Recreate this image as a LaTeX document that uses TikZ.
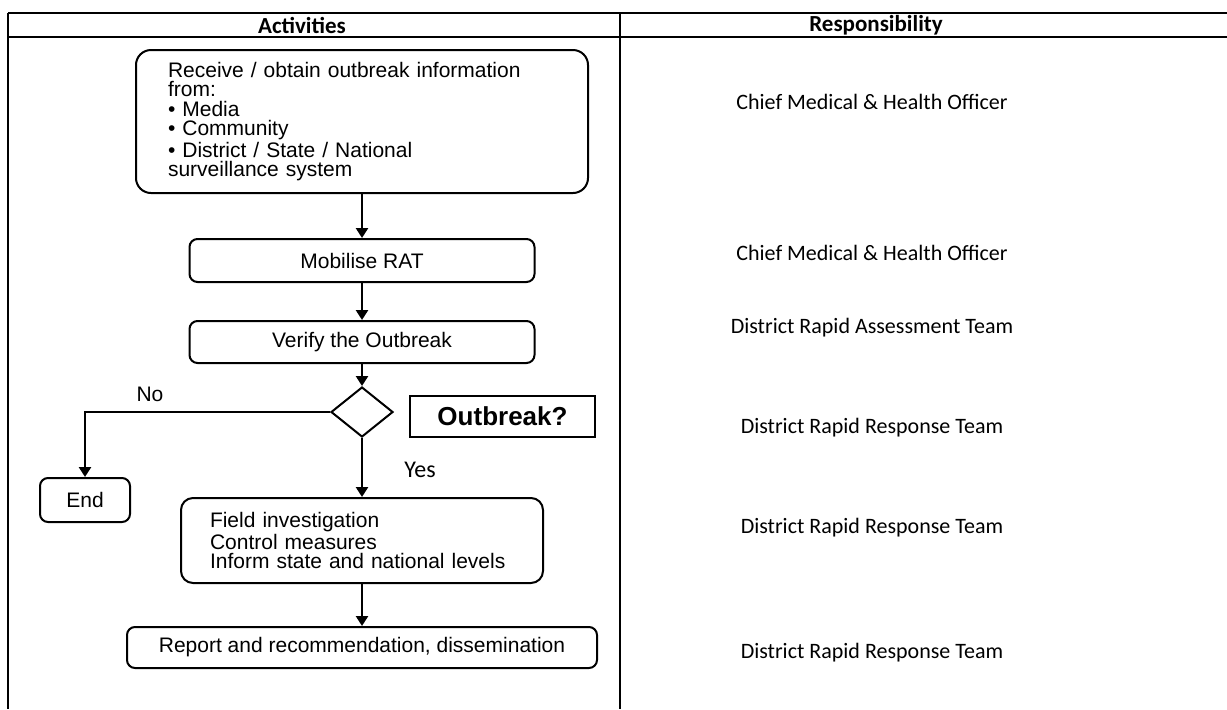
\documentclass[tikz,border=0pt]{standalone}
\usepackage{fontspec}
\setmainfont{Liberation Sans}
\newfontfamily\calfont{Carlito}
\usetikzlibrary{arrows.meta,shapes.geometric}

\begin{document}
\begin{tikzpicture}[x=0.5pt,y=-0.5pt,
	box/.style={draw,line width=1pt,rounded corners=4pt,inner sep=0pt,font=\fontsize{10.5}{9.7}\selectfont},
	arr/.style={line width=1.4pt,-{Triangle[length=5pt,width=6pt]}},
	resp/.style={font=\calfont\fontsize{11}{13}\selectfont},
	head/.style={font=\calfont\bfseries\fontsize{11.5}{13}\selectfont}]
	\useasboundingbox (0,0) rectangle (1227,709);
	\draw [line width=0.6pt] (8,13) -- (1227,13) (8,37) -- (1227,37);
	\draw [line width=0.6pt] (8,13) -- (8,709) (620,13) -- (620,709);
	\node [head] (h_act) at (302,25) {Activities};
	\node [head] (h_resp) at (876,25) {Responsibility};

	\node [box,rounded corners=7.5pt,align=left,text width=194pt,inner xsep=16pt,minimum height=71.5pt] (recv) at (362,121.5)
		{Receive / obtain outbreak information\\from:\\\textbullet\ Media\\\textbullet\ Community\\\textbullet\ District / State / National\\surveillance system};
	\node [box,minimum width=172.5pt,minimum height=21.5pt] (mob) at (362,260.5) {Mobilise RAT};
	\node [box,minimum width=172.5pt,minimum height=21pt] (ver) at (362,342) {Verify the Outbreak};
	\node [draw,line width=1pt,diamond,aspect=1.2,minimum width=31pt,minimum height=25pt,inner sep=0pt] (dia) at (362,412) {};
	\node [draw,line width=0.6pt,minimum width=92.5pt,minimum height=20.5pt,font=\bfseries\fontsize{13}{15}\selectfont] (q) at (502.5,416.5) {Outbreak?};
	\node [box,minimum width=45pt,minimum height=22pt] (end) at (85,500) {End};
	\node [box,rounded corners=6pt,align=left,text width=152pt,inner xsep=14.5pt,minimum height=42.5pt] (field) at (362,540.5)
		{Field investigation\\Control measures\\Inform state and national levels};
	\node [box,minimum width=235pt,minimum height=20.5pt] (rep) at (362,647.5) {Report and recommendation, dissemination};
	\node [font=\fontsize{10.5}{12}\selectfont] (no) at (150,394) {No};
	\node [font=\calfont\fontsize{12}{14}\selectfont] (yes) at (420,470) {Yes};

	\draw [arr] (recv) -- (mob);
	\draw [arr] (mob) -- (ver);
	\draw [arr] (ver) -- (dia);
	\draw [arr] (dia.west) -| (end);
	\draw [arr] (dia) -- (field);
	\draw [arr] (field) -- (rep);

	\foreach \i/\y/\t in {1/102/Chief Medical \& Health Officer, 2/253/Chief Medical \& Health Officer, 3/328/District Rapid Assessment Team, 4/428/District Rapid Response Team, 5/528/District Rapid Response Team, 6/653/District Rapid Response Team}
		\node [resp] (r_\i) at (872,\y) {\t};
\end{tikzpicture}
\end{document}
